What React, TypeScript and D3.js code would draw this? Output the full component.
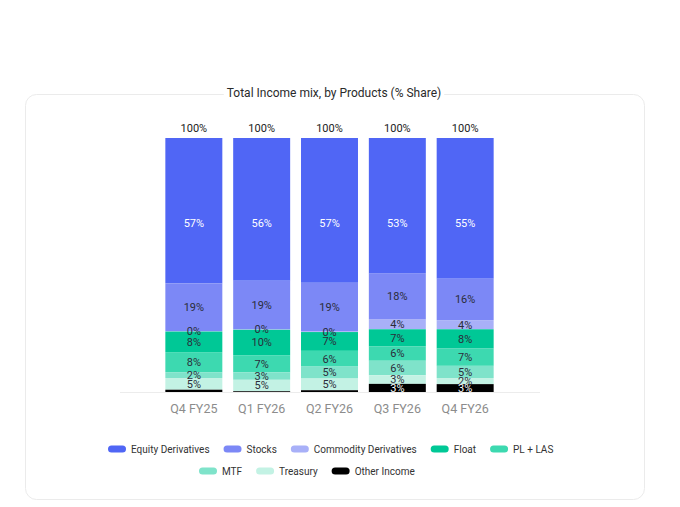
import { useEffect, useRef } from "react";
import * as d3 from "d3";

const quarters = ["Q4 FY25", "Q1 FY26", "Q2 FY26", "Q3 FY26", "Q4 FY26"];
const products = [
  "Equity Derivatives",
  "Stocks",
  "Commodity Derivatives",
  "Float",
  "PL + LAS",
  "MTF",
  "Treasury",
  "Other Income",
];
const colors = ["#5066f5", "#7c88f6", "#a8b0f8", "#00c896", "#3dd9b0", "#7fe3ca", "#c3f2e4", "#000000"];

// % share per quarter, one array per product
const equity = [57.2, 56.2, 57.0, 53.4, 55.4];
const stocks = [18.8, 19.1, 19.2, 18.1, 16.3];
const commodity = [0.2, 0.2, 0.2, 3.8, 3.6];
const float = [8.1, 10.0, 7.4, 6.8, 7.6];
const plLas = [7.9, 6.8, 6.2, 5.6, 6.8];
const mtf = [2.3, 2.9, 4.7, 5.7, 4.8];
const treasury = [4.6, 4.5, 4.6, 3.4, 2.4];
const otherIncome = [0.9, 0.3, 0.7, 3.2, 3.1];
const totals = ["100%", "100%", "100%", "100%", "100%"];

const series = [equity, stocks, commodity, float, plLas, mtf, treasury, otherIncome];

// the top segment's labels sit on one common line
const topLabelAt = 66.5;

const FONT = "Roboto, 'Liberation Sans', sans-serif";

export default function App() {
  const svgRef = useRef<SVGSVGElement>(null);

  useEffect(() => {
    if (!svgRef.current) return;
    const svg = d3.select(svgRef.current);
    svg.selectAll("*").remove();

    // card
    svg.append("rect")
      .attr("x", 25.5).attr("y", 94.5)
      .attr("width", 619).attr("height", 405)
      .attr("rx", 11)
      .attr("fill", "#fff")
      .attr("stroke", "#ebebeb");

    const title = svg.append("text")
      .attr("x", 334).attr("y", 93)
      .attr("dy", "0.35em")
      .attr("text-anchor", "middle")
      .attr("font-family", FONT)
      .attr("font-size", 12)
      .attr("fill", "#2a2a2a")
      .text("Total Income mix, by Products (% Share)");
    const tb = (title.node() as SVGTextElement).getBBox();
    svg.insert("rect", "text")
      .attr("x", tb.x - 3).attr("y", tb.y)
      .attr("width", tb.width + 6).attr("height", tb.height)
      .attr("fill", "#fff");

    const x = d3.scaleBand<string>()
      .domain(quarters)
      .range([145, 514])
      .paddingInner(0.16)
      .paddingOuter(0.3);
    const y = d3.scaleLinear().domain([0, 100]).range([392, 138]);

    // baseline
    svg.append("line")
      .attr("x1", 120).attr("x2", 540)
      .attr("y1", 392.5).attr("y2", 392.5)
      .attr("stroke", "#ececec");

    const rows = quarters.map((q, i) => {
      const r: Record<string, number | string> = { quarter: q };
      products.forEach((p, j) => (r[p] = series[j][i]));
      return r;
    });
    // first product on top, Other Income at the bottom
    const stacked = d3.stack<Record<string, number | string>>()
      .keys(products)
      .order(d3.stackOrderReverse)
      .value((d, k) => d[k] as number)(rows);

    const g = svg.append("g");
    stacked.forEach((layer) => {
      const li = products.indexOf(layer.key);
      g.selectAll(null)
        .data(layer)
        .enter()
        .append("rect")
        .attr("x", (d) => x(d.data.quarter as string)!)
        .attr("width", x.bandwidth())
        .attr("y", (d) => y(d[1]))
        .attr("height", (d) => Math.max(0, y(d[0]) - y(d[1])))
        .attr("fill", colors[li]);
    });

    // segment labels
    stacked.forEach((layer) => {
      const isOther = layer.key === "Other Income";
      const isTop = layer.key === products[0];
      g.selectAll(null)
        .data(layer.filter((d) => !(isOther && d[1] - d[0] < 1.5)))
        .enter()
        .append("text")
        .attr("x", (d) => x(d.data.quarter as string)! + x.bandwidth() / 2)
        .attr("y", (d) => y(isTop ? topLabelAt : (d[0] + d[1]) / 2))
        .attr("dy", "0.35em")
        .attr("text-anchor", "middle")
        .attr("font-family", FONT)
        .attr("font-size", 11)
        .attr("fill", isOther || isTop ? "#fff" : "#2b2d3a")
        .text((d) => `${Math.round(d[1] - d[0])}%`);
    });

    // totals
    g.selectAll(null)
      .data(quarters)
      .enter()
      .append("text")
      .attr("x", (q) => x(q)! + x.bandwidth() / 2)
      .attr("y", y(100) - 10)
      .attr("dy", "0.35em")
      .attr("text-anchor", "middle")
      .attr("font-family", FONT)
      .attr("font-size", 11)
      .attr("fill", "#222")
      .text((_, i) => totals[i]);

    // x axis labels
    g.selectAll(null)
      .data(quarters)
      .enter()
      .append("text")
      .attr("x", (q) => x(q)! + x.bandwidth() / 2)
      .attr("y", 409)
      .attr("dy", "0.35em")
      .attr("text-anchor", "middle")
      .attr("font-family", FONT)
      .attr("font-size", 12.5)
      .attr("fill", "#8c8c8c")
      .text((q) => q);

    // legend
    const legendRows = [
      { start: 108, y: 449, items: [0, 1, 2, 3, 4] },
      { start: 199, y: 471, items: [5, 6, 7] },
    ];
    const lg = svg.append("g").attr("font-family", FONT).attr("font-size", 10);
    legendRows.forEach((row) => {
      let cx = row.start;
      row.items.forEach((idx) => {
        lg.append("rect")
          .attr("x", cx).attr("y", row.y - 3.5)
          .attr("width", 18).attr("height", 7)
          .attr("rx", 3.5)
          .attr("fill", colors[idx]);
        const t = lg.append("text")
          .attr("x", cx + 23).attr("y", row.y)
          .attr("dy", "0.35em")
          .attr("fill", "#333")
          .text(products[idx]);
        const w = (t.node() as SVGTextElement).getComputedTextLength();
        cx += 23 + w + 14;
      });
    });
  }, []);

  return (
    <svg
      ref={svgRef}
      width={680}
      height={507}
      style={{ position: "absolute", left: 0, top: 0, background: "#fff" }}
    />
  );
}
